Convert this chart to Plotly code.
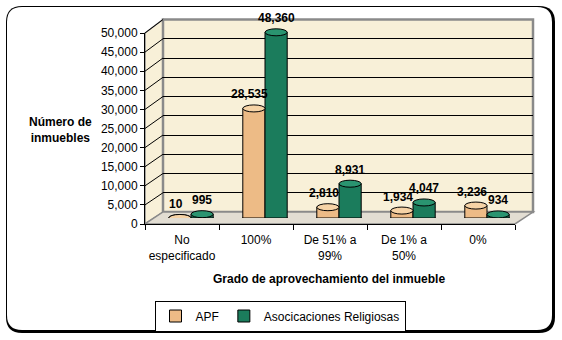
import plotly.graph_objects as go

categories = ["No<br>especificado", "100%", "De 51% a<br>99%", "De 1% a<br>50%", "0%"]
apf = [10, 28535, 2810, 1934, 3236]
religiosas = [995, 48360, 8931, 4047, 934]
series_names = ["APF", "Asocicaciones Religiosas"]
y_ticks = list(range(0, 50001, 5000))

W, H = 562, 340
def px(x): return x / W
def py(y): return 1 - y / H

APF_C = "#EDBB86"
APF_TOP = "#F6D3A6"
REL_C = "#1B7C5C"
REL_TOP = "#2A9470"
WALL = "#F8F0D8"
FLOOR = "#E2DDD2"
EDGE = "#8A8A8A"
FONT = "Liberation Sans, Arial, sans-serif"

fig = go.Figure()

fig.add_trace(go.Scatter(x=categories, y=apf, mode="markers", marker=dict(opacity=0),
                         showlegend=False, hoverinfo="skip", xaxis="x", yaxis="y"))
fig.add_trace(go.Scatter(x=categories, y=apf, mode="markers", marker=dict(opacity=0),
                         showlegend=False, hoverinfo="skip", xaxis="x2", yaxis="y2"))

for name, vals, col in [(series_names[0], apf, APF_C), (series_names[1], religiosas, REL_C)]:
    fig.add_trace(go.Bar(x=categories, y=vals, name=name, xaxis="x3", yaxis="y3",
                         marker=dict(color=col, line=dict(color="black", width=1)),
                         hoverinfo="skip"))

def rounded_rect(x0, y0, x1, y1, r):
    pts = [
        (x0 + r, y0), (x1 - r, y0), (x1, y0), (x1, y0 + r), (x1, y1 - r), (x1, y1),
        (x1 - r, y1), (x0 + r, y1), (x0, y1), (x0, y1 - r), (x0, y0 + r), (x0, y0)]
    P = lambda p: f"{px(p[0]):.5f},{py(p[1]):.5f}"
    d = (f"M{P(pts[0])} L{P(pts[1])} Q{P(pts[2])} {P(pts[3])} L{P(pts[4])} Q{P(pts[5])} {P(pts[6])} "
         f"L{P(pts[7])} Q{P(pts[8])} {P(pts[9])} L{P(pts[10])} Q{P(pts[11])} {P(pts[0])} Z")
    return d

def poly(points):
    return "M" + " L".join(f"{px(x):.5f},{py(y):.5f}" for x, y in points) + " Z"

shapes = []
shapes.append(dict(type="path", xref="paper", yref="paper", path=rounded_rect(6, 6, 555, 333, 16),
                   fillcolor="black", line=dict(width=0), layer="below"))
shapes.append(dict(type="path", xref="paper", yref="paper", path=rounded_rect(7, 7, 552, 330, 15),
                   fillcolor="white", line=dict(width=0), layer="below"))
FX0, FX1, FY0, FY1 = 145, 515, 224, 33
BX0, BX1, BY0, BY1 = 163, 533, 212, 19.5
shapes.append(dict(type="path", xref="paper", yref="paper",
                   path=poly([(FX0, FY0), (FX0, FY1), (BX0, BY1), (BX0, BY0)]),
                   fillcolor=WALL, line=dict(color=EDGE, width=1.5), layer="below"))
shapes.append(dict(type="path", xref="paper", yref="paper",
                   path=poly([(BX0, BY0), (BX0, BY1), (BX1, BY1), (BX1, BY0)]),
                   fillcolor=WALL, line=dict(color=EDGE, width=2.5), layer="below"))
shapes.append(dict(type="path", xref="paper", yref="paper",
                   path=poly([(FX0, FY0), (BX0, BY0), (BX1, BY0), (FX1, FY0)]),
                   fillcolor=FLOOR, line=dict(color=EDGE, width=1.5), layer="below"))
for v in y_ticks[1:]:
    yf = FY0 - v / 50000 * (FY0 - FY1)
    yb = BY0 - v / 50000 * (BY0 - BY1)
    shapes.append(dict(type="line", xref="paper", yref="paper",
                       x0=px(FX0), y0=py(yf), x1=px(BX0), y1=py(yb),
                       line=dict(color="black", width=1), layer="below"))

bw = 0.15
for vals, side, body, top in [(apf, -1, APF_C, APF_TOP), (religiosas, 1, REL_C, REL_TOP)]:
    for i, v in enumerate(vals):
        c = i + side * bw
        shapes.append(dict(type="circle", xref="x3", yref="y3", x0=c - bw, x1=c + bw,
                           ysizemode="pixel", yanchor=0, y0=-3.5, y1=3.5,
                           fillcolor=body, line=dict(color="black", width=1), layer="below"))
        shapes.append(dict(type="circle", xref="x3", yref="y3", x0=c - bw, x1=c + bw,
                           ysizemode="pixel", yanchor=v, y0=-3.5, y1=3.5,
                           fillcolor=top, line=dict(color="black", width=1), layer="above"))

annotations = []
for vals, side in [(apf, -1), (religiosas, 1)]:
    for i, v in enumerate(vals):
        annotations.append(dict(xref="x3", yref="y3", x=i + side * bw, y=v,
                                text=f"<b>{v:,}</b>", showarrow=False,
                                yanchor="middle", yshift=14, xshift=-4 if side < 0 else 0,
                                font=dict(family=FONT, size=12, color="black")))
annotations.append(dict(xref="paper", yref="paper", x=px(60), y=py(130),
                        text="<b>Número de<br>inmuebles</b>", showarrow=False,
                        xanchor="center", yanchor="middle",
                        font=dict(family=FONT, size=12, color="black")))
annotations.append(dict(xref="paper", yref="paper", x=px(329), y=py(279),
                        text="<b>Grado de aprovechamiento del inmueble</b>", showarrow=False,
                        xanchor="center", yanchor="middle",
                        font=dict(family=FONT, size=12, color="black")))

fig.update_layout(
    width=W, height=H, margin=dict(l=0, r=0, t=0, b=0),
    paper_bgcolor="white", plot_bgcolor="rgba(0,0,0,0)",
    font=dict(family=FONT, size=12, color="black"),
    barmode="group", bargap=0.4, bargroupgap=0,
    shapes=shapes, annotations=annotations,
    xaxis=dict(domain=[px(FX0), px(FX1)], type="category", categoryarray=categories,
               categoryorder="array", range=[-0.5, 4.5], tickson="boundaries",
               ticks="outside", ticklen=5, tickcolor="black", showline=True, linecolor="black",
               linewidth=1, showgrid=False, zeroline=False, anchor="y", tickangle=0,
               ticklabelstandoff=5, automargin=False, tickfont=dict(family=FONT, size=12)),
    yaxis=dict(domain=[py(FY0), py(FY1)], range=[0, 50000], tickvals=y_ticks,
               tickformat=",", ticks="outside", ticklen=4, tickcolor="black",
               showline=True, linecolor="black", linewidth=1, showgrid=False,
               zeroline=False, anchor="x", automargin=False, tickfont=dict(family=FONT, size=12)),
    xaxis2=dict(domain=[px(BX0), px(BX1)], type="category", categoryarray=categories,
                categoryorder="array", range=[-0.5, 4.5], showticklabels=False,
                showgrid=False, zeroline=False, showline=False, ticks="", anchor="y2"),
    yaxis2=dict(domain=[py(BY0), py(BY1)], range=[0, 50000], tickvals=y_ticks,
                showticklabels=False, showgrid=True, gridcolor="black", gridwidth=1,
                zeroline=False, showline=False, ticks="", anchor="x2"),
    xaxis3=dict(domain=[px(154), px(524)], type="category", categoryarray=categories,
                categoryorder="array", range=[-0.5, 4.5], showticklabels=False,
                showgrid=False, zeroline=False, showline=False, ticks="", anchor="y3"),
    yaxis3=dict(domain=[py(218), py(26)], range=[0, 50000], showticklabels=False,
                showgrid=False, zeroline=False, showline=False, ticks="", anchor="x3"),
    legend=dict(orientation="h", x=px(280), y=py(316), xanchor="center", yanchor="middle",
                bordercolor="black", borderwidth=1, bgcolor="white", itemwidth=30,
                entrywidth=0, font=dict(family=FONT, size=12), tracegroupgap=0),
    showlegend=True,
)

fig.write_html("out.html")
